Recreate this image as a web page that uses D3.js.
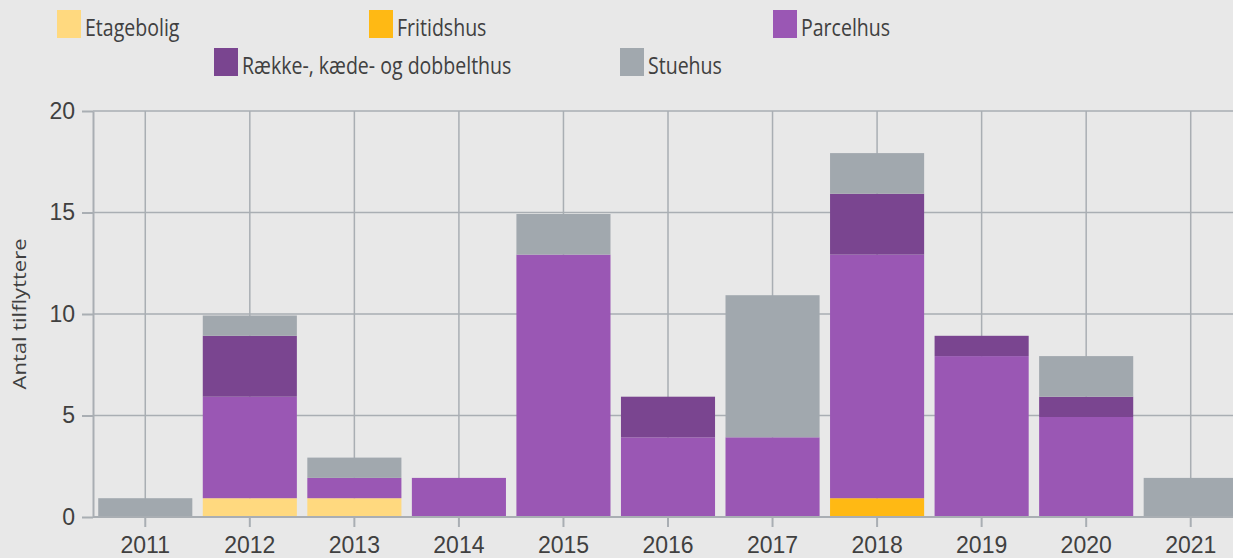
<!DOCTYPE html>
<html>
<head>
<meta charset="utf-8">
<script src="https://cdn.jsdelivr.net/npm/d3@7"></script>
<style>
  body { margin: 0; background: #e8e8e8; overflow: hidden; }
  svg { display: block; font-family: "Open Sans", "Noto Sans", sans-serif; }
</style>
</head>
<body>
<script>
// data
var years = ["2011", "2012", "2013", "2014", "2015", "2016", "2017", "2018", "2019", "2020", "2021"];
var etagebolig = [0, 1, 1, 0, 0, 0, 0, 0, 0, 0, 0];
var fritidshus = [0, 0, 0, 0, 0, 0, 0, 1, 0, 0, 0];
var parcelhus  = [0, 5, 1, 2, 13, 4, 4, 12, 8, 5, 0];
var raekkehus  = [0, 3, 0, 0, 0, 2, 0, 3, 1, 1, 0];
var stuehus    = [1, 1, 1, 0, 2, 0, 7, 2, 0, 2, 2];
var seriesNames = ["Etagebolig", "Fritidshus", "Parcelhus", "Række-, kæde- og dobbelthus", "Stuehus"];
var yTicks = [0, 5, 10, 15, 20];

var colors = ["#ffd97f", "#ffb914", "#9a57b4", "#7a4590", "#a1a8ae"];
var allSeries = [etagebolig, fritidshus, parcelhus, raekkehus, stuehus];

var W = 1233, H = 558;
var margin = {top: 111, left: 93, bottom: 41};
var plotRight = 1243; // plot runs past the window edge
var squeeze = 0.85;   // text in the original is narrow

var rows = years.map(function(y, i) {
    var r = {year: y};
    seriesNames.forEach(function(s, k) { r[s] = allSeries[k][i]; });
    return r;
});

var svg = d3.select("body").append("svg")
    .attr("width", W)
    .attr("height", H);

var x = d3.scaleBand().domain(years).range([margin.left, plotRight]).paddingInner(0.1).paddingOuter(0.05);
var y = d3.scaleLinear().domain([0, 20]).range([H - margin.bottom, margin.top]);

var gridColor = "#a9aeb3";

// grid lines
svg.append("g").selectAll("line.h")
    .data(yTicks).enter().append("line")
    .attr("x1", margin.left).attr("x2", W)
    .attr("y1", function(d) { return y(d); })
    .attr("y2", function(d) { return y(d); })
    .attr("stroke", gridColor).attr("stroke-width", 1.5);

svg.append("g").selectAll("line.v")
    .data(years).enter().append("line")
    .attr("x1", function(d) { return x(d) + x.bandwidth() / 2; })
    .attr("x2", function(d) { return x(d) + x.bandwidth() / 2; })
    .attr("y1", y(20)).attr("y2", y(0))
    .attr("stroke", gridColor).attr("stroke-width", 1.5);

// stacked bars
var stack = d3.stack().keys(seriesNames);
var layers = stack(rows);

svg.append("g").selectAll("g")
    .data(layers).enter().append("g")
    .attr("fill", function(d, i) { return colors[i]; })
    .selectAll("rect")
    .data(function(d) { return d; }).enter().append("rect")
    .filter(function(d) { return d[1] > d[0]; })
    .attr("x", function(d) { return x(d.data.year); })
    .attr("width", x.bandwidth())
    .attr("y", function(d) { return y(d[1]) + 1.5; })
    .attr("height", function(d) { return y(d[0]) - y(d[1]) - (d[0] === 0 ? 1.5 : 0); });

// axes
var xAxis = svg.append("g")
    .attr("transform", "translate(0," + y(0) + ")")
    .call(d3.axisBottom(x).tickSize(10).tickSizeOuter(0).tickPadding(10));

var yAxis = svg.append("g")
    .attr("transform", "translate(" + margin.left + ",0)")
    .call(d3.axisLeft(y).tickValues(yTicks).tickSize(11).tickSizeOuter(0).tickPadding(7));

[xAxis, yAxis].forEach(function(a) {
    a.select(".domain").attr("stroke", gridColor).attr("stroke-width", 2);
    a.selectAll(".tick line").attr("stroke", gridColor).attr("stroke-width", 2);
    a.selectAll(".tick text").attr("fill", "#404040").style("font-size", "23px");
});
// x axis line spans to window edge
xAxis.select(".domain").attr("d", "M" + margin.left + ",0H" + W);

svg.append("text")
    .attr("transform", "translate(25.5," + ((y(0) + y(20)) / 2) + ") scale(" + squeeze + ",1) rotate(-90)")
    .attr("text-anchor", "middle")
    .attr("fill", "#404040")
    .style("font-size", "22px")
    .text("Antal tilflyttere");

// legend
var legendPos = [[57, 10], [369, 10], [773, 10], [214, 48], [620, 48]];
var legend = svg.append("g").selectAll("g")
    .data(seriesNames).enter().append("g")
    .attr("transform", function(d, i) { return "translate(" + legendPos[i][0] + "," + legendPos[i][1] + ")"; });

legend.append("rect")
    .attr("width", 24).attr("height", 28)
    .attr("fill", function(d, i) { return colors[i]; });

legend.append("text")
    .attr("transform", "translate(28,25.5) scale(" + squeeze + ",1)")
    .attr("fill", "#404040")
    .style("font-size", "23px")
    .text(function(d) { return d; });
</script>
</body>
</html>
